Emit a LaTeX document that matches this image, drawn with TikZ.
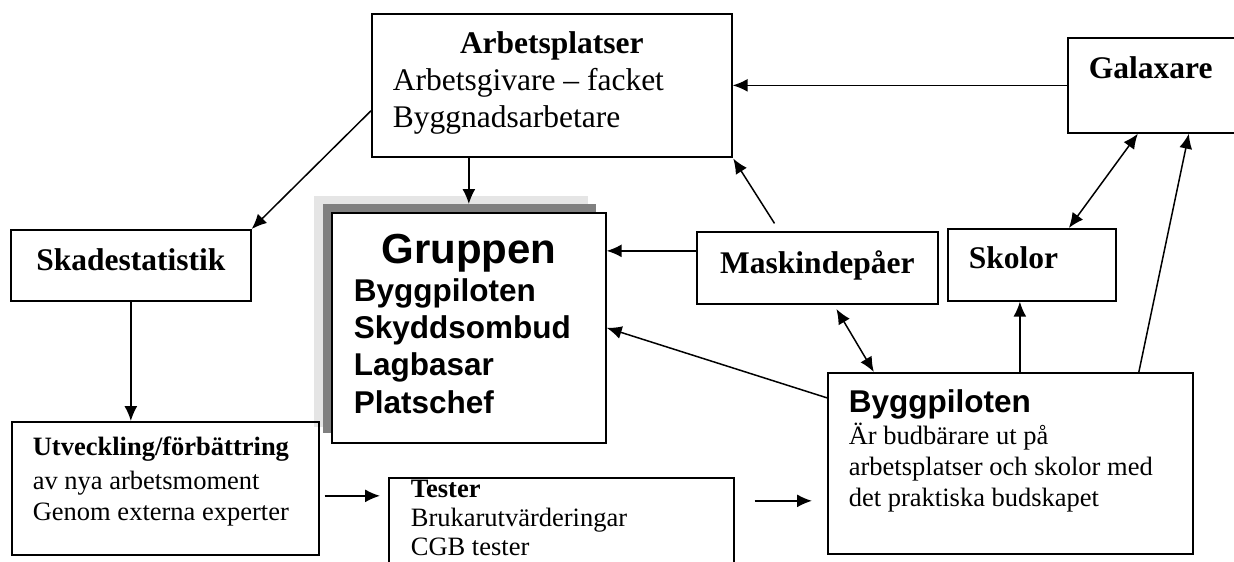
\documentclass[tikz,border=0pt]{standalone}
\usepackage{fontspec}
\setmainfont{Liberation Serif}
\setsansfont{Liberation Sans}
\usetikzlibrary{arrows.meta}
\tikzstyle{line} = [draw, line width=1.5pt, -{Latex[length=15pt, width=13pt]}]
\tikzstyle{dline} = [draw, line width=1.5pt, {Latex[length=15pt, width=13pt]}-{Latex[length=15pt, width=13pt]}]
\tikzstyle{block} = [draw, line width=1.7pt, anchor=north west, inner xsep=21pt, inner ysep=0pt, align=left, execute at begin node={\spaceskip=0pt\xspaceskip=0pt}]
\tikzstyle{shade} = [anchor=north west, inner sep=0pt]
\newcommand{\bigtxt}{\fontsize{31.5}{37}\selectfont}
\newcommand{\smalltxt}{\fontsize{26.5}{31}\selectfont}

\begin{document}
\begin{tikzpicture}[x=1pt, y=-1pt]
	\clip (0,0) rectangle (1234,562);
	\node [block, font=\bigtxt, text width=318pt, text height=40pt, text depth=103pt] (arb) at (371,13) {\makebox[\linewidth]{\textbf{Arbetsplatser}}\\Arbetsgivare – facket\\Byggnadsarbetare};
	\node [block, font=\bigtxt, text width=141pt, text height=41pt, text depth=54pt] (gal) at (1067,37) {\textbf{Galaxare}};
	\node [block, font=\bigtxt, inner xsep=10pt, align=center, text width=220pt, text height=41pt, text depth=30pt] (skada) at (10,229) {\textbf{Skadestatistik}};
	% gruppen with its shadow
	\node [shade, fill=black!10, minimum width=274pt, minimum height=231pt] (grplight) at (314,196) {};
	\node [shade, fill=black!50, minimum width=273pt, minimum height=229pt] (grpdark) at (323,204) {};
	\node [block, fill=white, font=\sffamily\bfseries\fontsize{31.5}{37.3}\selectfont, inner xsep=22pt, text width=230pt, text height=51pt, text depth=179pt] (grp) at (331,212) {\makebox[\linewidth]{\fontsize{42}{37.3}\selectfont Gruppen}\\Byggpiloten\\Skyddsombud\\Lagbasar\\Platschef};
	\node [block, font=\bigtxt, inner xsep=10pt, align=center, text width=221pt, text height=42pt, text depth=30pt] (mask) at (696,231) {\textbf{Maskindepåer}};
	\node [block, font=\bigtxt, text width=126pt, text height=40pt, text depth=32pt] (skol) at (947,228) {\textbf{Skolor}};
	\node [block, font=\smalltxt, text width=323pt, text height=40pt, text depth=141pt] (bygg) at (827,372) {{\sffamily\bfseries\fontsize{31.5}{31}\selectfont Byggpiloten}\\[1pt]Är budbärare ut på\\arbetsplatser och skolor med\\det praktiska budskapet};
	\node [block, font=\smalltxt, text width=265pt, text height=34pt, text depth=99pt] (utv) at (11,421) {\textbf{Utveckling/förbättring}\\[3pt]av nya arbetsmoment\\Genom externa experter};
	\node [block, font=\fontsize{26.5}{29}\selectfont, inner xsep=22pt, text width=301pt, text height=20pt, text depth=83pt] (test) at (388,477) {\textbf{Tester}\\Brukarutvärderingar\\CGB tester};
	% connectors
	\path [line] (gal.west) -- (gal.west -| arb.east);
	\path [line] (arb.south -| grp.north) -- (grpdark.north -| grp.north);
	\path [line] (arb.188) -- (skada.north east);
	\path [line] (skada.south) -- (skada.south |- utv.north);
	\path [line, shorten <=5pt, shorten >=8pt] ([yshift=-7.5pt]utv.east) -- ([yshift=-7.5pt]utv.east -| test.west);
	\path [line, shorten <=20pt, shorten >=15pt] ([yshift=-37.5pt]bygg.west -| test.east) -- ([yshift=-37.5pt]bygg.west);
	\path [line] ([yshift=17pt]mask.west) -- ([yshift=17pt]mask.west -| grp.east);
	\path [line, shorten <=9pt, shorten >=1pt] ([xshift=-38pt]mask.north) -- (arb.south east);
	\path [dline, shorten <=5pt] ([xshift=16.5pt]mask.south) -- ([xshift=-136.5pt]bygg.north);
	\path [line] ([yshift=65.5pt]bygg.west) -- (grp.east);
	\path [line] ([xshift=-12pt]skol.south |- bygg.north) -- ([xshift=-12pt]skol.south);
	\path [dline] ([xshift=37pt]skol.north) -- ([xshift=-21.5pt]gal.south);
	\path [line] ([xshift=128.5pt]bygg.north) -- ([xshift=29.5pt]gal.south);
\end{tikzpicture}
\end{document}
